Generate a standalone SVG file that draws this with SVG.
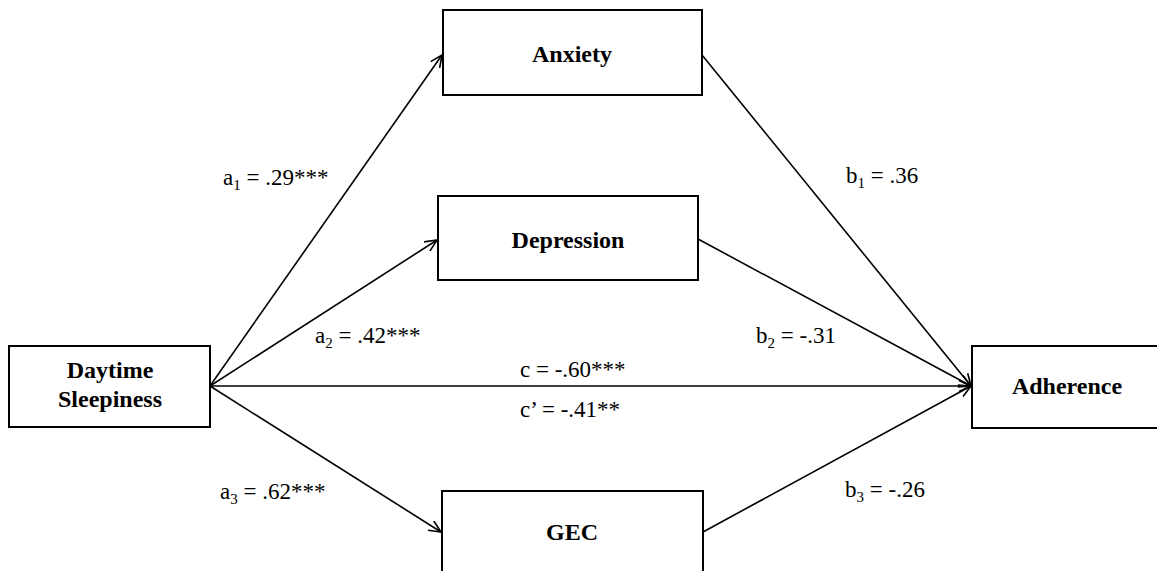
<svg xmlns="http://www.w3.org/2000/svg" width="1157" height="571" viewBox="0 0 1157 571">
  <style>
    .box { fill: #ffffff; stroke: #000000; stroke-width: 2; }
    .name { font-family: "Liberation Serif", "Times New Roman", serif; font-weight: bold; font-size: 24px; fill: #000000; text-anchor: middle; }
    .coef { font-family: "Liberation Serif", "Times New Roman", serif; font-size: 23px; fill: #000000; }
    .sub { font-size: 15px; }
    .path { stroke: #000000; stroke-width: 1.6; fill: none; marker-end: url(#open); }
  </style>
  <defs>
    <marker id="open" viewBox="0 0 14 12" refX="13" refY="6" markerWidth="14" markerHeight="12" markerUnits="userSpaceOnUse" orient="auto">
      <path d="M1,0.5 L13,6 L1,11.5" fill="none" stroke="#000000" stroke-width="1.6"/>
    </marker>
  </defs>

  <rect width="1157" height="571" fill="#ffffff"/>

  <!-- connectors -->
  <g id="connectors">
    <line class="path" x1="210" y1="386" x2="442" y2="55"/>
    <line class="path" x1="210" y1="386" x2="437" y2="240"/>
    <line class="path" x1="210" y1="386" x2="971" y2="386"/>
    <line class="path" x1="210" y1="386" x2="441" y2="532"/>
    <line class="path" x1="702" y1="55" x2="971" y2="386"/>
    <line class="path" x1="698" y1="239" x2="971" y2="386"/>
    <line class="path" x1="703" y1="532" x2="971" y2="386"/>
  </g>

  <!-- path coefficients -->
  <g id="labels">
    <text class="coef" x="223" y="185">a<tspan class="sub" dy="5">1</tspan><tspan dy="-5"> = .29***</tspan></text>
    <text class="coef" x="315" y="343">a<tspan class="sub" dy="5">2</tspan><tspan dy="-5"> = .42***</tspan></text>
    <text class="coef" x="220" y="499">a<tspan class="sub" dy="5">3</tspan><tspan dy="-5"> = .62***</tspan></text>
    <text class="coef" x="846" y="183">b<tspan class="sub" dy="5">1</tspan><tspan dy="-5"> = .36</tspan></text>
    <text class="coef" x="756" y="343">b<tspan class="sub" dy="5">2</tspan><tspan dy="-5"> = -.31</tspan></text>
    <text class="coef" x="845" y="497">b<tspan class="sub" dy="5">3</tspan><tspan dy="-5"> = -.26</tspan></text>
    <text class="coef" x="520" y="377">c = -.60***</text>
    <text class="coef" x="520" y="417">c’ = -.41**</text>
  </g>

  <!-- nodes -->
  <g id="daytime-sleepiness">
    <rect class="box" x="9" y="346" width="201" height="81"/>
    <text class="name" x="110" y="378">Daytime</text>
    <text class="name" x="110" y="407">Sleepiness</text>
  </g>
  <g id="anxiety">
    <rect class="box" x="443" y="10" width="259" height="85"/>
    <text class="name" x="572" y="62">Anxiety</text>
  </g>
  <g id="depression">
    <rect class="box" x="438" y="196" width="260" height="84"/>
    <text class="name" x="568" y="248">Depression</text>
  </g>
  <g id="gec">
    <rect class="box" x="442" y="491" width="261" height="95"/>
    <text class="name" x="572" y="540">GEC</text>
  </g>
  <g id="adherence">
    <rect class="box" x="972" y="346" width="195" height="82"/>
    <text class="name" x="1067" y="394">Adherence</text>
  </g>
</svg>
